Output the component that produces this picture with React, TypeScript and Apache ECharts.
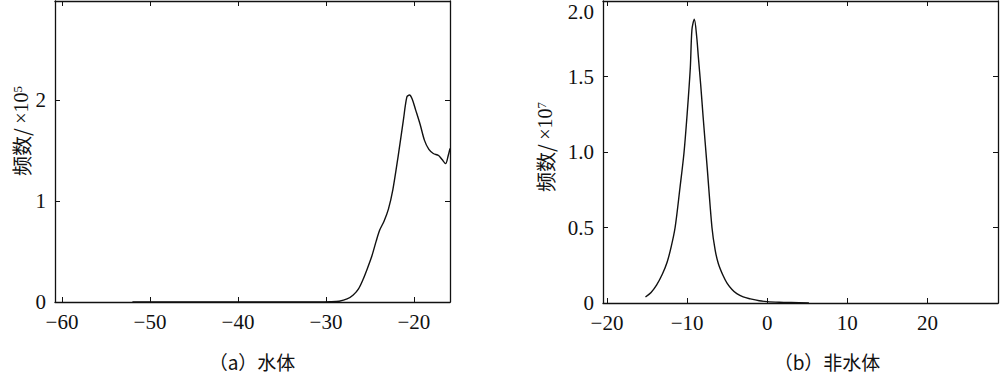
import React, { useEffect, useRef } from "react";
import * as echarts from "echarts";

// (a) water: x = backscatter (dB), y = frequency ×10^5
const waterX = [-52, -45, -38, -31, -29.5, -28.5, -27.6, -26.9, -26.3, -25.8, -25.3, -24.8, -24.3, -23.9, -23.4, -22.9, -22.4, -21.8, -21.2, -20.8, -20.5, -20.2, -19.8, -19.3, -18.8, -18.3, -17.8, -17.2, -16.8, -16.4, -16.1, -15.9];
const waterY = [0, 0, 0, 0, 0.002, 0.008, 0.03, 0.07, 0.13, 0.22, 0.33, 0.45, 0.6, 0.71, 0.8, 0.92, 1.11, 1.44, 1.8, 2.03, 2.05, 2.01, 1.9, 1.76, 1.6, 1.51, 1.47, 1.45, 1.41, 1.37, 1.45, 1.52];

// (b) non-water: x = backscatter (dB), y = frequency ×10^7
const landX = [-15.2, -14.5, -13.8, -13.1, -12.5, -12, -11.5, -10.9, -10.4, -10.0, -9.6, -9.4, -9.1, -8.8, -8.6, -8.3, -8.0, -7.5, -6.9, -6.5, -6.1, -5.5, -5.0, -4.4, -3.8, -3.0, -2.1, -1, 0, 1.5, 3, 5.2];
const landY = [0.04, 0.07, 0.12, 0.19, 0.27, 0.37, 0.5, 0.76, 0.99, 1.25, 1.56, 1.81, 1.88, 1.76, 1.63, 1.44, 1.23, 0.9, 0.5, 0.35, 0.26, 0.18, 0.13, 0.09, 0.062, 0.04, 0.027, 0.015, 0.009, 0.005, 0.003, 0.001];

const waterXTicks = [-60, -50, -40, -30, -20];
const waterYTicks = [0, 1, 2];
const landXTicks = [-20, -10, 0, 10, 20];
const landYTicks = [0, 0.5, 1.0, 1.5, 2.0];

const FONT = "Liberation Serif";
const CJK = "Noto Sans CJK SC";
const INK = "#111";

function fmtNum(v: number, digits: number) {
  const s = digits > 0 && v !== 0 ? v.toFixed(digits) : String(v);
  return s.replace("-", "\u2212");
}

function makeAxes(gridIndex: number, xr: [number, number], yr: [number, number], xt: number[], yt: number[], ydig: number) {
  const line = { show: true, lineStyle: { color: INK, width: 1.3 } };
  const tick = (vals: number[]) => ({ show: true, inside: true, length: 5, customValues: vals, lineStyle: { color: INK, width: 1 } });
  const xAxes = [
    {
      type: "value", gridIndex, position: "bottom", min: xr[0], max: xr[1],
      axisLine: { ...line, onZero: false }, axisTick: tick(xt), splitLine: { show: false },
      axisLabel: {
        show: true, customValues: xt, margin: 9, color: INK, fontSize: 21, fontFamily: FONT,
        formatter: (v: number) => fmtNum(v, 0),
      },
    },
    {
      type: "value", gridIndex, position: "top", min: xr[0], max: xr[1],
      axisLine: { ...line, onZero: false }, axisTick: tick(xt), splitLine: { show: false }, axisLabel: { show: false },
    },
  ];
  const yAxes = [
    {
      type: "value", gridIndex, position: "left", min: yr[0], max: yr[1],
      axisLine: { ...line, onZero: false }, axisTick: tick(yt), splitLine: { show: false },
      axisLabel: {
        show: true, customValues: yt, margin: 9, color: INK, fontSize: 21, fontFamily: FONT,
        formatter: (v: number) => fmtNum(v, ydig),
        verticalAlignMaxLabel: ydig > 0 ? "top" : undefined,
      },
    },
    {
      type: "value", gridIndex, position: "right", min: yr[0], max: yr[1],
      axisLine: { ...line, onZero: false }, axisTick: tick(yt), splitLine: { show: false }, axisLabel: { show: false },
    },
  ];
  return { xAxes, yAxes };
}

export default function App() {
  const ref = useRef<HTMLDivElement>(null);
  useEffect(() => {
    if (!ref.current) return;
    const chart = echarts.init(ref.current, null, { renderer: "svg" });
    const a = makeAxes(0, [-60.8, -15.9], [0, 2.98], waterXTicks, waterYTicks, 0);
    const b = makeAxes(1, [-20.5, 28.8], [0, 2.0], landXTicks, landYTicks, 1);
    const yName = (sup: string) => ({
      text: `{m|频数/ }{n|×10}{s|${sup}}`,
      rich: {
        m: { fontSize: 20, fontFamily: CJK, fill: INK, color: INK },
        n: { fontSize: 20, fontFamily: FONT, fill: INK, color: INK },
        s: { fontSize: 13, fontFamily: FONT, fill: INK, color: INK, verticalAlign: "top", padding: [0, 0, 8, 0] },
      },
      align: "center",
      verticalAlign: "middle",
    });
    chart.setOption({
      animation: false,
      backgroundColor: "#fff",
      grid: [
        { left: 55, top: 1, width: 395, height: 301 },
        { left: 603, top: 1, width: 395, height: 302 },
      ],
      xAxis: [...a.xAxes, ...b.xAxes],
      yAxis: [...a.yAxes, ...b.yAxes],
      series: [
        {
          type: "line", xAxisIndex: 0, yAxisIndex: 0, showSymbol: false, smooth: 0.3,
          lineStyle: { color: INK, width: 1.4 },
          data: waterX.map((x, i) => [x, waterY[i]]),
        },
        {
          type: "line", xAxisIndex: 2, yAxisIndex: 2, showSymbol: false, smooth: 0.3,
          lineStyle: { color: INK, width: 1.4 },
          data: landX.map((x, i) => [x, landY[i]]),
        },
      ],
      graphic: [
        { type: "text", x: 21, y: 131, rotation: Math.PI / 2, style: yName("5") },
        { type: "text", x: 545, y: 147, rotation: Math.PI / 2, style: yName("7") },
        { type: "text", x: 252, y: 361, style: { text: "（a）水体", fontSize: 19, fontFamily: CJK, fill: INK, align: "center", verticalAlign: "middle" } },
        { type: "text", x: 827, y: 361, style: { text: "（b）非水体", fontSize: 19, fontFamily: CJK, fill: INK, align: "center", verticalAlign: "middle" } },
      ],
    });
    return () => chart.dispose();
  }, []);
  return <div ref={ref} style={{ position: "fixed", left: 0, top: 0, width: 1000, height: 374, background: "#fff" }} />;
}
